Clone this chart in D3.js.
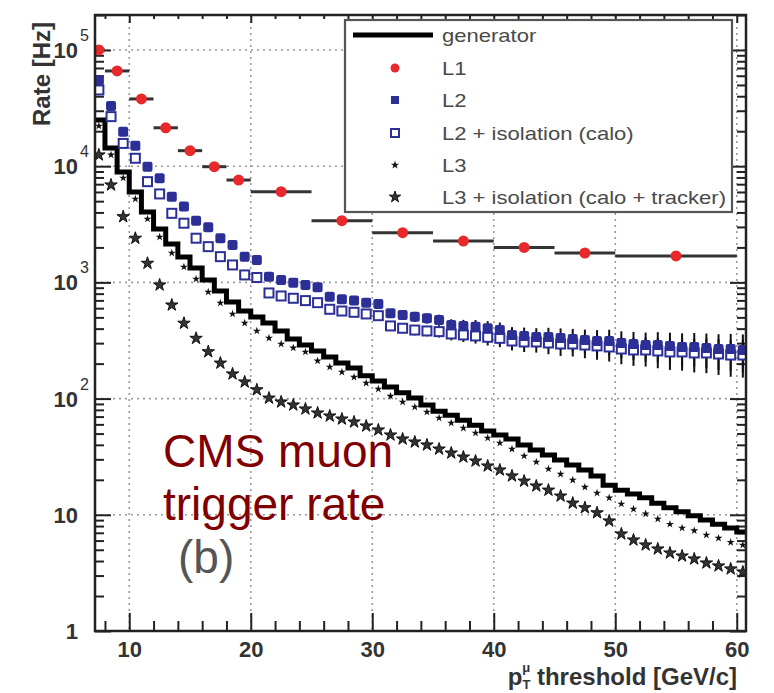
<!DOCTYPE html>
<html><head><meta charset="utf-8">
<script src="https://cdn.jsdelivr.net/npm/d3@7"></script>
<style>body{margin:0;background:#fff}svg{display:block;font-family:"Liberation Sans",Arial,Helvetica,sans-serif}</style>
</head><body><svg id="c" width="774" height="693"></svg>
<script>
// ---- data ----
const pt = [7.5,8.5,9.5,10.5,11.5,12.5,13.5,14.5,15.5,16.5,17.5,18.5,19.5,20.5,21.5,22.5,23.5,24.5,25.5,26.5,27.5,28.5,29.5,30.5,31.5,32.5,33.5,34.5,35.5,36.5,37.5,38.5,39.5,40.5,41.5,42.5,43.5,44.5,45.5,46.5,47.5,48.5,49.5,50.5,51.5,52.5,53.5,54.5,55.5,56.5,57.5,58.5,59.5,60.5];
const generator = [25000,14350,8910,6000,4035,2880,2140,1655,1331,1050,844,678,567,504,447,382,326,289,257,228,202,183,157,142,126,112,101,88,78,72,65,59,52.6,48.6,44.9,39.9,36.1,32.7,29.6,26.8,24.3,21.6,18.0,16.3,15.1,14.0,12.6,11.5,10.6,9.8,9.0,8.3,7.7,7.1];
const l2 = [55200,33000,19800,15000,9900,7870,5470,4490,3400,2980,2400,2100,1665,1560,1120,1050,995,950,908,753,716,697,669,652,542,524,507,491,475,430,421,416,403,389,352,346,339,339,332,326,319,313,313,301,295,289,289,284,278,278,273,267,267,262];
const l2iso = [45300,26700,15700,11700,7360,5770,3930,3230,2400,2030,1665,1413,1159,1102,811,764,730,697,669,587,567,553,535,517,422,403,389,382,377,360,353,346,337,330,313,307,307,301,295,295,289,284,278,267,262,262,257,252,252,247,247,242,237,237];
const l2RelErr = [0.01,0.01,0.01,0.02,0.02,0.02,0.02,0.03,0.03,0.03,0.04,0.04,0.04,0.05,0.05,0.05,0.06,0.06,0.06,0.07,0.07,0.07,0.08,0.08,0.09,0.09,0.10,0.10,0.11,0.12,0.13,0.14,0.15,0.16,0.17,0.18,0.19,0.20,0.21,0.22,0.23,0.24,0.25,0.26,0.27,0.28,0.29,0.30,0.31,0.32,0.33,0.34,0.35,0.36];
const l3 = [22200,12500,7920,5220,3515,2460,1790,1358,1070,827,665,535,447,382,332,295,273,252,211,187,169,153,136,121,105,93.5,84.7,76.7,68.1,61.7,55.8,50.6,45.8,41.5,36.8,32.1,28.5,24.8,22.4,19.9,17.3,15.4,14.0,12.4,11.2,10.2,9.2,8.3,7.7,7.3,6.7,6.3,5.8,5.5];
const l3iso = [12500,6890,3675,2397,1460,950,639,445,330,253,202,163,139,119,101,93.5,88.1,81.4,75.2,70.8,66.7,62.9,58.1,53.7,48.6,44.9,42.3,39.9,36.8,34.0,31.4,29.0,26.3,24.3,21.6,19.5,17.7,16.3,14.5,12.6,11.5,10.4,8.85,6.84,6.07,5.50,5.08,4.69,4.42,4.17,3.85,3.63,3.42,3.22];
const l1Lo = [7,8,10,12,14,16,18,20,25,30,35,40,45,50];
const l1Hi = [8,10,12,14,16,18,20,25,30,35,40,45,50,60];
const l1Center = [7.5,9,11,13,15,17,19,22.5,27.5,32.5,37.5,42.5,47.5,55];
const l1 = [100000,66000,37900,21400,13600,9900,7600,6030,3400,2680,2270,2000,1790,1690];
const xMajor = [10,20,30,40,50,60];
const xMinor = [8,12,14,16,18,22,24,26,28,32,34,36,38,42,44,46,48,52,54,56,58];
const xTickLabels = ["10","20","30","40","50","60"];
const yDecades = [1,10,100,1000,10000,100000];
const yBase = ["1","10","10","10","10","10"];
const yExp = ["","","2","3","4","5"];
const legendLabels = ["generator","L1","L2","L2 + isolation (calo)","L3","L3 + isolation (calo + tracker)"];

// ---- layout ----
const M = {l:95, r:746, t:15, b:631};
const x = d3.scaleLinear().domain([7.18,60.76]).range([M.l,M.r]);
const y = d3.scaleLog().domain([1,2e5]).range([M.b,M.t]);
const svg = d3.select('#c');
svg.append('defs').append('clipPath').attr('id','clip').append('rect')
  .attr('x',M.l).attr('y',M.t).attr('width',M.r-M.l).attr('height',M.b-M.t);

const yMinor = [];
yDecades.forEach(d=>{ for(let m=2;m<=9;m++){ const v=m*d; if(v<=2e5) yMinor.push(v);} });

// gridlines
const grid = svg.append('g').attr('stroke','#9a9a9a').attr('stroke-width',1.6).attr('stroke-dasharray','2,4');
xMajor.forEach(v=>grid.append('line').attr('x1',x(v)).attr('x2',x(v)).attr('y1',M.t).attr('y2',M.b));
yDecades.slice(1).forEach(v=>grid.append('line').attr('x1',M.l).attr('x2',M.r).attr('y1',y(v)).attr('y2',y(v)));

// axes ticks
function styleAx(g){ g.select('.domain').remove(); g.selectAll('line').attr('stroke','#222').attr('stroke-width',2); g.selectAll('text').remove(); }
svg.append('g').attr('transform',`translate(${M.l},0)`).call(d3.axisRight(y).tickValues(yDecades).tickSize(16).tickFormat('')).call(styleAx);
svg.append('g').attr('transform',`translate(${M.l},0)`).call(d3.axisRight(y).tickValues(yMinor).tickSize(9).tickFormat('')).call(styleAx);
svg.append('g').attr('transform',`translate(${M.r},0)`).call(d3.axisLeft(y).tickValues(yDecades).tickSize(16).tickFormat('')).call(styleAx);
svg.append('g').attr('transform',`translate(${M.r},0)`).call(d3.axisLeft(y).tickValues(yMinor).tickSize(9).tickFormat('')).call(styleAx);
svg.append('g').attr('transform',`translate(0,${M.b})`).call(d3.axisTop(x).tickValues(xMajor).tickSize(18).tickFormat('')).call(styleAx);
svg.append('g').attr('transform',`translate(0,${M.b})`).call(d3.axisTop(x).tickValues(xMinor).tickSize(10).tickFormat('')).call(styleAx);
svg.append('g').attr('transform',`translate(0,${M.t})`).call(d3.axisBottom(x).tickValues(xMajor).tickSize(8).tickFormat('')).call(styleAx);
svg.append('g').attr('transform',`translate(0,${M.t})`).call(d3.axisBottom(x).tickValues(xMinor).tickSize(4).tickFormat('')).call(styleAx);

// x tick labels
const xl = svg.append('g').attr('transform',`translate(0,${M.b})`)
  .call(d3.axisBottom(x).tickValues(xMajor).tickSize(0).tickPadding(10).tickFormat((d,i)=>xTickLabels[i]));
xl.select('.domain').remove();
xl.selectAll('text').attr('font-size',22).attr('font-weight','bold').attr('fill','#333')
  .attr('font-family','"Liberation Sans",Arial,sans-serif');

// y tick labels
yDecades.forEach((v,i)=>{
  const yy = y(v);
  svg.append('text').attr('x',78).attr('y',yy+8).attr('text-anchor','end')
    .attr('font-size',22).attr('font-weight','bold').attr('fill','#333').text(yBase[i]);
  if(yExp[i]) svg.append('text').attr('x',80).attr('y',yy-9).attr('font-size',16).attr('fill','#333').text(yExp[i]);
});

// axis titles
svg.append('text').attr('transform','translate(50,22) rotate(-90)').attr('text-anchor','end')
  .attr('font-size',24).attr('font-weight','bold').attr('fill','#333').text('Rate [Hz]');
const xt = svg.append('text').attr('x',737).attr('y',685).attr('text-anchor','end')
  .attr('font-size',24).attr('font-weight','bold').attr('fill','#333');
xt.append('tspan').text('p');
xt.append('tspan').attr('font-size',13).attr('dy',4).text('T');
xt.append('tspan').attr('font-size',13).attr('dx',-8).attr('dy',-17).text('\u03bc');
xt.append('tspan').attr('dy',13).text('  threshold [GeV/c]');

// plot content
const plot = svg.append('g').attr('clip-path','url(#clip)');
const edges = pt.map(p=>p-0.5).concat([pt[pt.length-1]+0.5]);
const genPts = edges.map((e,i)=>[e, generator[Math.min(i,generator.length-1)]]);
plot.append('path').datum(genPts)
  .attr('d', d3.line().x(d=>x(d[0])).y(d=>y(d[1])).curve(d3.curveStepAfter))
  .attr('fill','none').attr('stroke','#000').attr('stroke-width',5);

const starBig = d3.symbol().type(d3.symbolStar).size(48);
const starSmall = d3.symbol().type(d3.symbolStar).size(20);
plot.append('g').selectAll('path').data(pt).join('path')
  .attr('transform',(d,i)=>`translate(${x(d)},${y(l3iso[i])})`).attr('d',starBig())
  .attr('fill','#333').attr('stroke','#111').attr('stroke-width',1);
plot.append('g').selectAll('path').data(pt).join('path')
  .attr('transform',(d,i)=>`translate(${x(d)},${y(l3[i])})`).attr('d',starSmall())
  .attr('fill','#111');

const blue = '#2b2f96';
// L2 error bars
[l2, l2iso].forEach(arr=>{
  plot.append('g').selectAll('line').data(pt).join('line')
    .attr('x1',d=>x(d)).attr('x2',d=>x(d))
    .attr('y1',(d,i)=>y(arr[i]*(1+l2RelErr[i]))).attr('y2',(d,i)=>y(arr[i]*(1-l2RelErr[i])))
    .attr('stroke','#111').attr('stroke-width',2);
});
plot.append('g').selectAll('rect').data(pt).join('rect')
  .attr('x',d=>x(d)-4.5).attr('y',(d,i)=>y(l2iso[i])-4.5).attr('width',9).attr('height',9)
  .attr('fill','#fff').attr('stroke',blue).attr('stroke-width',2);
plot.append('g').selectAll('rect').data(pt).join('rect')
  .attr('x',d=>x(d)-5).attr('y',(d,i)=>y(l2[i])-5).attr('width',10).attr('height',10).attr('rx',2)
  .attr('fill',blue);

// L1
plot.append('g').selectAll('line').data(l1).join('line')
  .attr('x1',(d,i)=>x(l1Lo[i])).attr('x2',(d,i)=>x(l1Hi[i]))
  .attr('y1',d=>y(d)).attr('y2',d=>y(d)).attr('stroke','#333').attr('stroke-width',3);
plot.append('g').selectAll('circle').data(l1).join('circle')
  .attr('cx',(d,i)=>x(l1Center[i])).attr('cy',d=>y(d)).attr('r',5.5).attr('fill','#e8282a');

// frame
svg.append('rect').attr('x',M.l).attr('y',M.t).attr('width',M.r-M.l).attr('height',M.b-M.t)
  .attr('fill','none').attr('stroke','#222').attr('stroke-width',2.5);

// legend
const lg = svg.append('g');
lg.append('rect').attr('x',345).attr('y',20).attr('width',387).attr('height',192)
  .attr('fill','#fff').attr('stroke','#555').attr('stroke-width',2.2);
const rows = [35,68,100,133,165,197];
lg.append('line').attr('x1',353).attr('x2',433).attr('y1',rows[0]).attr('y2',rows[0]).attr('stroke','#000').attr('stroke-width',5);
lg.append('circle').attr('cx',395).attr('cy',rows[1]).attr('r',4.5).attr('fill','#e8282a');
lg.append('rect').attr('x',391).attr('y',rows[2]-4).attr('width',8).attr('height',8).attr('fill',blue);
lg.append('rect').attr('x',391).attr('y',rows[3]-4).attr('width',8).attr('height',8).attr('fill','#fff').attr('stroke',blue).attr('stroke-width',2);
lg.append('path').attr('transform',`translate(395,${rows[4]})`).attr('d',d3.symbol().type(d3.symbolStar).size(22)()).attr('fill','#111');
lg.append('path').attr('transform',`translate(395,${rows[5]})`).attr('d',d3.symbol().type(d3.symbolStar).size(40)()).attr('fill','#333').attr('stroke','#111');
legendLabels.forEach((t,i)=>{
  lg.append('text').attr('transform',`translate(442,${rows[i]+7}) scale(1.16,1)`)
    .attr('font-size',19).attr('fill','#4a4a4a').text(t);
});

// annotation
const ann = svg.append('g').attr('font-size',46);
ann.append('text').attr('x',163).attr('y',467).attr('fill','#800000').text('CMS muon');
ann.append('text').attr('x',163).attr('y',520).attr('fill','#800000').text('trigger rate');
ann.append('text').attr('x',178).attr('y',573).attr('fill','#555').text('(b)');
</script></body></html>
